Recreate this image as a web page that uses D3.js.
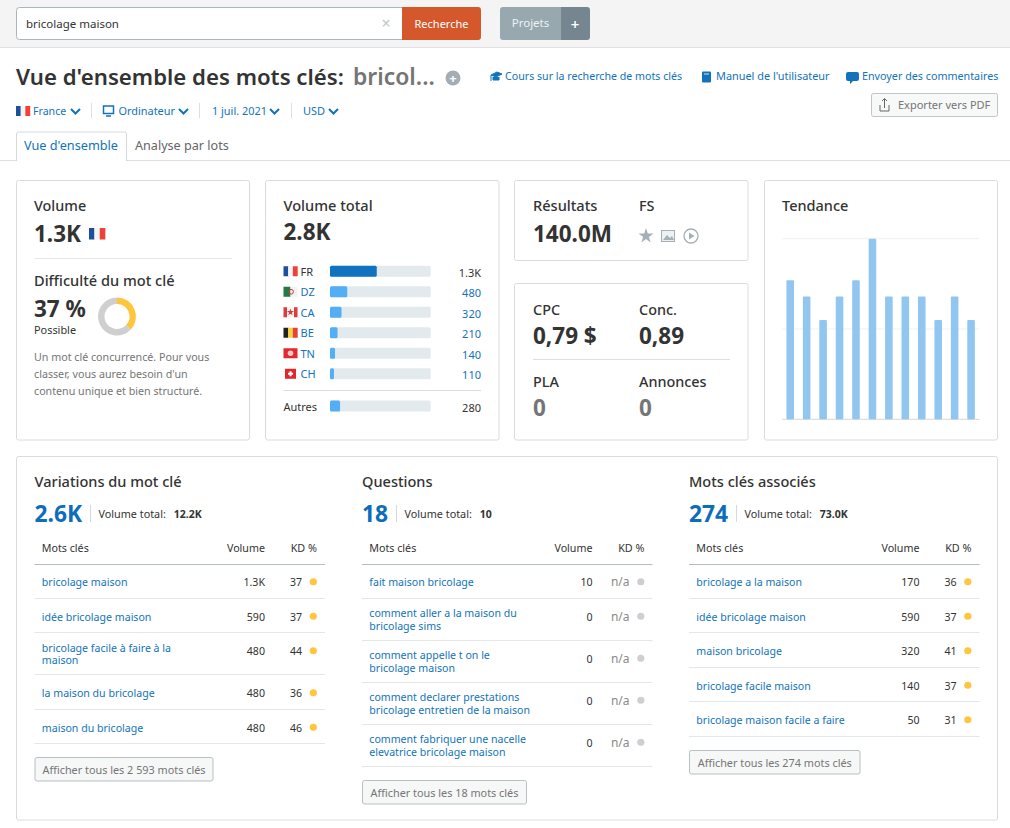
<!DOCTYPE html>
<html>
<head>
<meta charset="utf-8">
<script src="https://cdn.jsdelivr.net/npm/d3@7"></script>
<style>
  body { margin: 0; background: #fff; }
  svg { display: block; }
  text { font-family: "Noto Sans", "Open Sans", sans-serif; }
</style>
</head>
<body>
<div id="chart"></div>
<script>
// values
const countries = ["FR", "DZ", "CA", "BE", "TN", "CH"];
const countryVolumes = [1300, 480, 320, 210, 140, 110];
const otherVolume = 280;
const totalVolume = 2800;

const difficulty = 37;

// monthly trend, share of the best month
const trendValues = [0.77, 0.68, 0.55, 0.68, 0.77, 1, 0.68, 0.68, 0.68, 0.55, 0.68, 0.55];
const trendTicks = [0, 0.5, 1];

const variationKeywords = ["bricolage maison", "idée bricolage maison", "bricolage facile à faire à la|maison", "la maison du bricolage", "maison du bricolage"];
const variationVolumes = ["1.3K", "590", "480", "480", "480"];
const variationKd = ["37", "37", "44", "36", "46"];

const questionKeywords = ["fait maison bricolage", "comment aller a la maison du|bricolage sims", "comment appelle t on le|bricolage maison", "comment declarer prestations|bricolage entretien de la maison", "comment fabriquer une nacelle|elevatrice bricolage maison"];
const questionVolumes = ["10", "0", "0", "0", "0"];
const questionKd = ["n/a", "n/a", "n/a", "n/a", "n/a"];

const relatedKeywords = ["bricolage a la maison", "idée bricolage maison", "maison bricolage", "bricolage facile maison", "bricolage maison facile a faire"];
const relatedVolumes = ["170", "590", "320", "140", "50"];
const relatedKd = ["36", "37", "41", "37", "31"];

const DARK = "#333", GREY = "#757575", BLUE = "#1273ba", LINE = "#e3e7ea", BORDER = "#d9dcde";

const svg = d3.select("#chart").append("svg").attr("width", 1010).attr("height", 828);

function txt(x, y, s, size, fill, opt = {}, parent = svg) {
  return parent.append("text")
    .attr("x", x).attr("y", y)
    .attr("font-size", size)
    .attr("fill", fill)
    .attr("font-weight", opt.w || 400)
    .attr("text-anchor", opt.a || "start")
    .text(s);
}
function hline(x1, x2, y, col) {
  svg.append("line").attr("x1", x1).attr("x2", x2).attr("y1", y).attr("y2", y).attr("stroke", col).attr("stroke-width", 1);
}
function box(x, y, w, h, fill, stroke, r = 2) {
  return svg.append("rect").attr("x", x).attr("y", y).attr("width", w).attr("height", h).attr("rx", r)
    .attr("fill", fill).attr("stroke", stroke || "none");
}
function chevron(x, y) {
  svg.append("path").attr("d", `M${x},${y} l4.5,4.5 l4.5,-4.5`).attr("fill", "none").attr("stroke", BLUE).attr("stroke-width", 2);
}
function flag(code, x, y, k = 1) {
  const w = 14, h = 10, g = svg.append("g").attr("transform", `translate(${x},${y}) scale(${k})`);
  const stripes = { FR: ["#1c4f9c", "#f4f4f4", "#ef4135"], BE: ["#222", "#f7d23e", "#e8403c"] }[code];
  if (stripes) {
    stripes.forEach((c, i) => g.append("rect").attr("x", i * w / 3).attr("width", w / 3 + 0.2).attr("height", h).attr("fill", c));
  } else if (code === "DZ") {
    g.append("rect").attr("width", 7).attr("height", h).attr("fill", "#1f7a45");
    g.append("rect").attr("x", 7).attr("width", 7).attr("height", h).attr("fill", "#f2f2f2");
    g.append("circle").attr("cx", 7.5).attr("cy", 5).attr("r", 2.4).attr("fill", "none").attr("stroke", "#d8383a");
  } else if (code === "CA") {
    g.append("rect").attr("width", w).attr("height", h).attr("fill", "#f5f5f5");
    g.append("rect").attr("width", 3.5).attr("height", h).attr("fill", "#df3b3b");
    g.append("rect").attr("x", 10.5).attr("width", 3.5).attr("height", h).attr("fill", "#df3b3b");
    g.append("path").attr("d", d3.symbol(d3.symbolStar, 16)).attr("transform", "translate(7,5)").attr("fill", "#df3b3b");
  } else if (code === "TN") {
    g.append("rect").attr("width", w).attr("height", h).attr("fill", "#e3282f");
    g.append("circle").attr("cx", 7).attr("cy", 5).attr("r", 2.8).attr("fill", "#f7c9c9");
  } else if (code === "CH") {
    g.append("rect").attr("x", 1.5).attr("width", 11).attr("height", h).attr("fill", "#e3262c");
    g.append("rect").attr("x", 4.5).attr("y", 4).attr("width", 5).attr("height", 2).attr("fill", "#fff");
    g.append("rect").attr("x", 6).attr("y", 2.5).attr("width", 2).attr("height", 5).attr("fill", "#fff");
  }
}

// top bar
svg.append("rect").attr("width", 1010).attr("height", 47).attr("fill", "#f4f4f4");
hline(0, 1010, 47.5, "#dfe1e2");
box(16.5, 7.5, 392, 32, "#fff", "#a9b6be", 3);
txt(26, 28, "bricolage maison", 11.5, DARK);
txt(386, 29, "×", 16, "#c2c6c9", { a: "middle" });
svg.append("path").attr("d", "M402,7 H478 a3,3 0 0 1 3,3 V37 a3,3 0 0 1 -3,3 H402 Z").attr("fill", "#d4582c");
txt(441.5, 28, "Recherche", 11, "#fff", { a: "middle" });
svg.append("path").attr("d", "M503,7 H561 V40 H503 a3,3 0 0 1 -3,-3 V10 a3,3 0 0 1 3,-3 Z").attr("fill", "#98a8af");
svg.append("path").attr("d", "M561,7 H587 a3,3 0 0 1 3,3 V37 a3,3 0 0 1 -3,3 H561 Z").attr("fill", "#758690");
txt(530.5, 27, "Projets", 11.5, "#eef2f3", { a: "middle" });
txt(575, 30, "+", 15, "#fff", { a: "middle", w: 600 });

// title row
txt(16, 84.5, "Vue d'ensemble des mots clés:", 22.2, DARK, { w: 600 });
txt(353, 84.5, "bricol...", 22.9, GREY, { w: 600 });
svg.append("circle").attr("cx", 453).attr("cy", 78).attr("r", 7.5).attr("fill", "#a3adb3");
txt(453, 82.5, "+", 13, "#fff", { a: "middle", w: 700 });

// help links
svg.append("path").attr("d", "M491,75 l6,-3 l5,2 l-6,3 Z M493,77 v3 h6 v-3 M491,75 v6").attr("fill", BLUE).attr("stroke", BLUE);
txt(505, 80, "Cours sur la recherche de mots clés", 10.65, BLUE);
box(702, 71.5, 9, 11, BLUE, null, 1);
svg.append("path").attr("d", "M704,74 h5").attr("stroke", "#cfe3f2").attr("stroke-width", 1);
txt(716, 80, "Manuel de l'utilisateur", 10.9, BLUE);
svg.append("path").attr("d", "M848,72 h9 a2,2 0 0 1 2,2 v5 a2,2 0 0 1 -2,2 h-4 l-3,3 v-3 h-2 a2,2 0 0 1 -2,-2 v-5 a2,2 0 0 1 2,-2 Z").attr("fill", BLUE);
txt(862, 80, "Envoyer des commentaires", 10.75, BLUE);

// filters
flag("FR", 16, 106);
txt(33, 115, "France", 10.6, BLUE);
chevron(71, 109);
svg.append("rect").attr("x", 103.5).attr("y", 106).attr("width", 10).attr("height", 7.5).attr("fill", "none").attr("stroke", BLUE).attr("stroke-width", 1.5);
svg.append("path").attr("d", "M106,116 h5").attr("stroke", BLUE).attr("stroke-width", 1.5);
txt(118.5, 115, "Ordinateur", 10.9, BLUE);
chevron(179, 109);
txt(212, 115, "1 juil. 2021", 10.9, BLUE);
chevron(270, 109);
txt(303, 115, "USD", 11, BLUE);
chevron(329, 109);
[91.5, 199.5, 291.5].forEach(x => svg.append("line").attr("x1", x).attr("x2", x).attr("y1", 103).attr("y2", 118).attr("stroke", "#dcdfe1"));

// export button
box(871.5, 93.5, 126, 23, "#f7f8f8", "#c0c5c8", 2);
svg.append("path").attr("d", "M880,105 v6 h9 v-6 M884.5,108 v-9 M882,101 l2.5,-2.5 l2.5,2.5").attr("fill", "none").attr("stroke", "#666");
txt(898, 109, "Exporter vers PDF", 11, GREY);

// tabs
hline(0, 1010, 160.5, "#dcdfe1");
svg.append("path").attr("d", "M16.5,161 V134 a2,2 0 0 1 2,-2 H124.5 a2,2 0 0 1 2,2 V161").attr("fill", "#fff").attr("stroke", "#d6d9db");
txt(24, 150, "Vue d'ensemble", 12.7, BLUE);
txt(135, 150, "Analyse par lots", 12.6, "#666");

// cards
box(16.5, 180.5, 233, 259.5, "#fff", BORDER);
box(265.5, 180.5, 233.5, 259.5, "#fff", BORDER);
box(514.5, 180.5, 233.5, 80, "#fff", BORDER);
box(514.5, 283.5, 233.5, 156.5, "#fff", BORDER);
box(764.5, 180.5, 233, 259.5, "#fff", BORDER);
box(16.5, 456.5, 981, 363.5, "#fff", BORDER);

// volume + difficulty card
txt(34, 211, "Volume", 14.4, DARK, { w: 500 });
txt(34, 242, "1.3K", 22.5, DARK, { w: 700 });
flag("FR", 89, 228, 1.15);
hline(34.5, 232, 258.5, LINE);
txt(34, 286, "Difficulté du mot clé", 14.6, DARK, { w: 500 });
txt(34, 317, difficulty + " %", 22.5, DARK, { w: 700 });
txt(34, 334, "Possible", 10.9, DARK);
const pie = d3.pie().sort(null)([difficulty, 100 - difficulty]);
const arc = d3.arc().innerRadius(12.5).outerRadius(19);
svg.append("g").attr("transform", "translate(117,316.5)")
  .selectAll("path").data(pie).join("path")
  .attr("d", arc)
  .attr("fill", (d, i) => ["#ffc53d", "#cfcfcf"][i]);
["Un mot clé concurrencé. Pour vous", "classer, vous aurez besoin d'un", "contenu unique et bien structuré."]
  .forEach((s, i) => txt(34, 361 + i * 17, s, 10.7, GREY));

// volume total card
txt(283.5, 211, "Volume total", 14.6, DARK, { w: 500 });
txt(283.5, 240, "2.8K", 22.5, DARK, { w: 700 });

const barX = d3.scaleLinear().domain([0, totalVolume]).range([330, 430.7]);
const rowY = d3.scaleBand().domain(countries).range([261, 384]);
const fmtVolume = v => v >= 1000 ? (v / 1000).toFixed(1) + "K" : String(v);

function volumeBar(y, v, col) {
  svg.append("rect").attr("x", barX(0)).attr("y", y - 5.5).attr("width", barX(totalVolume) - barX(0)).attr("height", 11).attr("rx", 1.5).attr("fill", "#e3eaee");
  svg.append("rect").attr("x", barX(0)).attr("y", y - 5.5).attr("width", barX(v) - barX(0)).attr("height", 11).attr("rx", 1.5).attr("fill", col);
}
countries.forEach((c, i) => {
  const y = rowY(c) + rowY.bandwidth() / 2;
  flag(c, 283.5, y - 5);
  txt(300.5, y + 4.5, c, 11, i ? BLUE : DARK);
  volumeBar(y, countryVolumes[i], i ? "#52aef5" : "#1173bf");
  txt(481, y + 5.5, fmtVolume(countryVolumes[i]), 11, i ? BLUE : DARK, { a: "end" });
});
hline(283.5, 481, 390.5, "#dcdfe1");
txt(283.5, 411, "Autres", 11, DARK);
volumeBar(406, otherVolume, "#52aef5");
txt(481, 412, fmtVolume(otherVolume), 11, DARK, { a: "end" });

// results card
txt(533, 211, "Résultats", 14.6, DARK, { w: 500 });
txt(533, 242, "140.0M", 22.5, DARK, { w: 700 });
txt(639, 211, "FS", 14.4, DARK, { w: 500 });
svg.append("path").attr("d", d3.symbol(d3.symbolStar, 70)).attr("transform", "translate(646,236)").attr("fill", "#a5b0b6");
svg.append("rect").attr("x", 661.5).attr("y", 230.5).attr("width", 13).attr("height", 11).attr("fill", "#eef1f2").attr("stroke", "#a5b0b6");
svg.append("path").attr("d", "M663,240 l4,-5 l3,3 l2,-2 l2,4 Z").attr("fill", "#a5b0b6");
svg.append("circle").attr("cx", 691).attr("cy", 236).attr("r", 7).attr("fill", "none").attr("stroke", "#a5b0b6").attr("stroke-width", 1.3);
svg.append("path").attr("d", "M689,232.5 l5.5,3.5 l-5.5,3.5 Z").attr("fill", "#a5b0b6");

// cpc card
txt(533, 315, "CPC", 14.4, DARK, { w: 500 });
txt(533, 344, "0,79 $", 22.5, DARK, { w: 700 });
txt(639, 315, "Conc.", 14.4, DARK, { w: 500 });
txt(639, 344, "0,89", 22.5, DARK, { w: 700 });
hline(533, 730, 359.5, "#dcdfe1");
txt(533, 387, "PLA", 14.4, DARK, { w: 500 });
txt(533, 416, "0", 22.5, GREY, { w: 700 });
txt(639, 387, "Annonces", 14.4, DARK, { w: 500 });
txt(639, 416, "0", 22.5, GREY, { w: 700 });

// trend card
txt(782, 211, "Tendance", 14.5, DARK, { w: 500 });
const trendX = d3.scaleBand().domain(d3.range(trendValues.length)).range([782, 979.3]).paddingInner(0.54).paddingOuter(0.27);
const trendY = d3.scaleLinear().domain([0, 1]).range([419.3, 238.7]);
svg.append("g").selectAll("line").data(trendTicks).join("line")
  .attr("x1", 782).attr("x2", 979.3)
  .attr("y1", d => trendY(d)).attr("y2", d => trendY(d))
  .attr("stroke", d => d === 0 ? "#d3d7da" : "#eff1f2");
svg.append("g").selectAll("rect").data(trendValues).join("rect")
  .attr("x", (d, i) => trendX(i))
  .attr("y", d => trendY(d))
  .attr("width", trendX.bandwidth())
  .attr("height", d => trendY(0) - trendY(d))
  .attr("rx", 1)
  .attr("fill", "#90c6ef");

// keyword tables
function keywordTable(x, title, count, total, keywords, volumes, kd, buttonText, buttonW) {
  const right = x + 290.5;
  txt(x, 487, title, 14.55, DARK, { w: 500 });
  const n = txt(x, 522, count, 22.8, "#0c6eba", { w: 700 });
  const nw = n.node().getComputedTextLength();
  const sepX = Math.round(x + nw + 8) + 0.5;
  svg.append("line").attr("x1", sepX).attr("x2", sepX).attr("y1", 505).attr("y2", 522).attr("stroke", "#d6d9db");
  const lab = txt(sepX + 8, 518, "Volume total:", 10.8, DARK);
  txt(sepX + 8 + lab.node().getComputedTextLength() + 8, 518, total, 10.5, DARK, { w: 700 });

  txt(x + 7.3, 552, "Mots clés", 10.7, DARK);
  txt(x + 230.5, 552, "Volume", 10.7, DARK, { a: "end" });
  txt(x + 282.5, 552, "KD %", 10.8, DARK, { a: "end" });
  hline(x, right, 564.5, "#b4bdc2");

  let y = 564.5;
  keywords.forEach((k, i) => {
    const lines = k.split("|");
    const h = lines.length > 1 ? 42 : 34.5;
    const mid = y + h / 2;
    const top = y + 17.25; // the number cells stay on the first line height
    lines.forEach((s, j) => {
      txt(x + 7.3, mid + (lines.length > 1 ? 3.5 : 4.5) + (j - (lines.length - 1) / 2) * 12.1, s, 10.6, BLUE);
    });
    txt(x + 230.5, top + 4.5, volumes[i], 10.6, DARK, { a: "end" });
    const na = kd[i] === "n/a";
    txt(x + 267.5, top + 4.5, kd[i], na ? 12 : 10.6, na ? "#8a8a8a" : DARK, { a: "end" });
    svg.append("circle").attr("cx", x + 278.8).attr("cy", top).attr("r", 3.6).attr("fill", na ? "#cfcfcf" : "#ffc53d");
    y += h;
    hline(x, right, Math.floor(y) - 0.5, LINE);
  });

  const by = Math.floor(y) + 13.5;
  box(x + 0.5, by, buttonW, 23.5, "#f6f7f7", "#b9bfc3", 2);
  txt(x + 0.5 + buttonW / 2, by + 16, buttonText, 10.85, GREY, { a: "middle" });
}

keywordTable(34.5, "Variations du mot clé", "2.6K", "12.2K", variationKeywords, variationVolumes, variationKd, "Afficher tous les 2 593 mots clés", 178);
keywordTable(362, "Questions", "18", "10", questionKeywords, questionVolumes, questionKd, "Afficher tous les 18 mots clés", 164);
keywordTable(689, "Mots clés associés", "274", "73.0K", relatedKeywords, relatedVolumes, relatedKd, "Afficher tous les 274 mots clés", 170.5);
</script>
</body>
</html>
